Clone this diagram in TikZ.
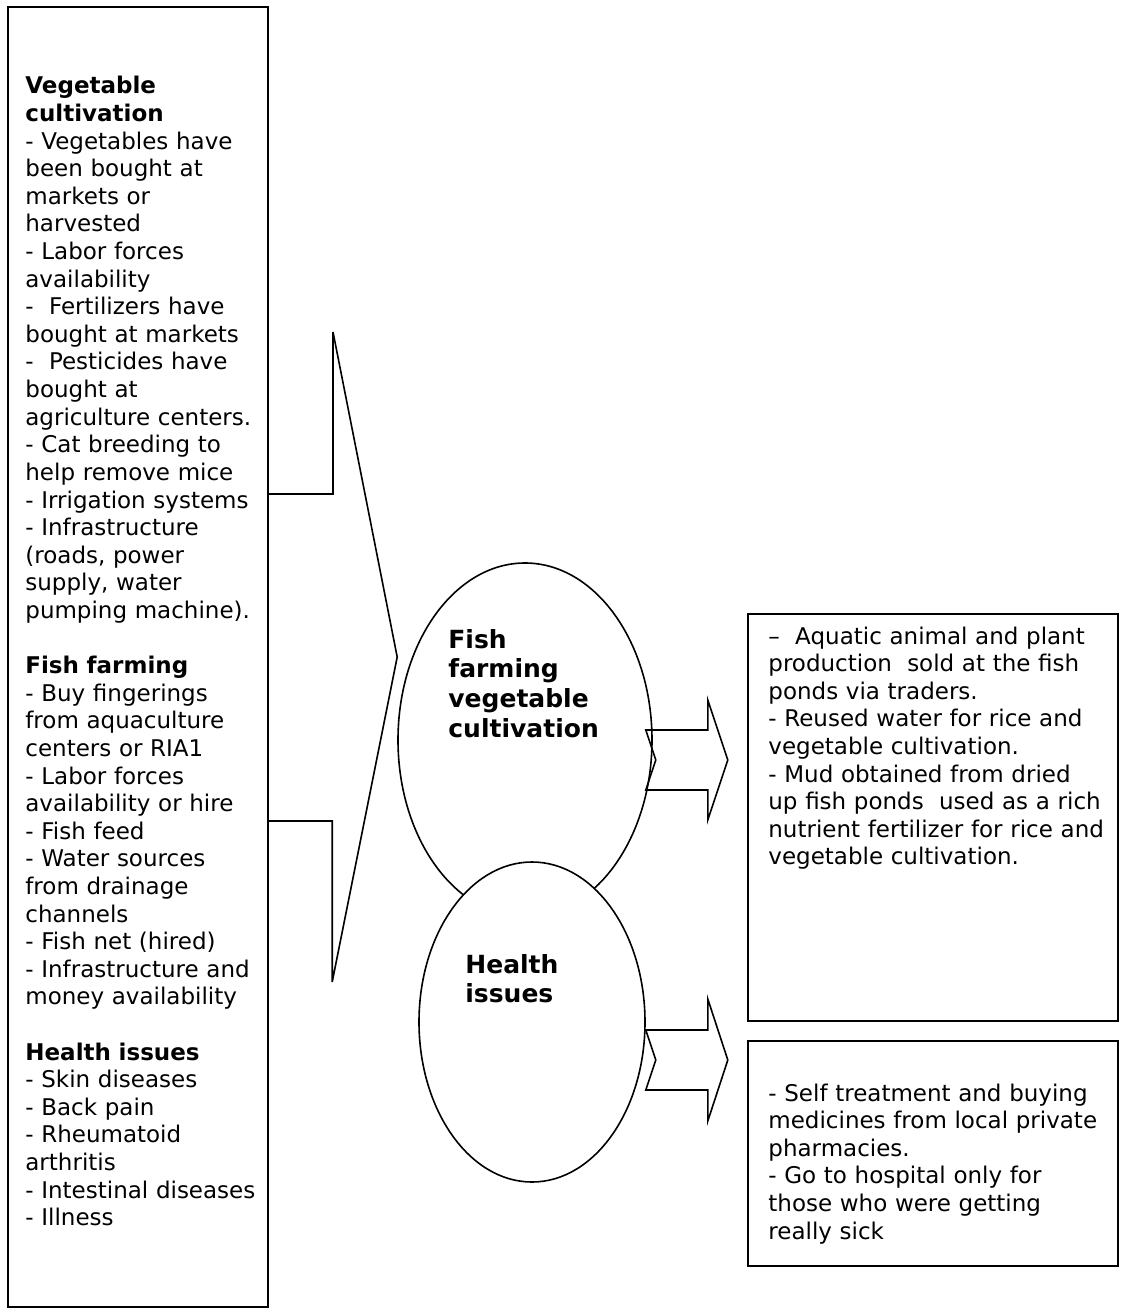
\documentclass[tikz,border=0pt]{standalone}
\usepackage{fontspec}
\setmainfont{DejaVu Sans}
\usetikzlibrary{positioning,calc,shapes.geometric}

\tikzset{
  box/.style={draw, line width=1pt, inner sep=0pt, outer sep=0pt},
  oval/.style={draw, ellipse, line width=0.8pt, inner sep=0pt, fill=white},
  conn/.style={draw, line width=0.8pt, line join=miter},
  bodytext/.style={anchor=base west, inner sep=0pt, align=left,
    font=\fontsize{11.5}{13.8}\selectfont},
  ovaltext/.style={anchor=base west, inner sep=0pt, align=left, text width=90pt,
    font=\fontsize{12.5}{14.9}\selectfont\bfseries}
}

\begin{document}
\begin{tikzpicture}[x=0.5pt, y=-0.5pt]
  \useasboundingbox (0,0) rectangle (1120,1311);

  % left box with the inputs
  \node[box, minimum width=130pt, minimum height=650pt] (veg) at (138,657) {};
  \node[bodytext, text width=150pt] (vegtxt) at (25,94) {%
    \textbf{Vegetable}\\
    \textbf{cultivation}\\
    - Vegetables have\\
    been bought at\\
    markets or\\
    harvested\\
    - Labor forces\\
    availability\\
    -\ \ Fertilizers have\\
    bought at markets\\
    -\ \ Pesticides have\\
    bought at\\
    agriculture centers.\\
    - Cat breeding to\\
    help remove mice\\
    - Irrigation systems\\
    - Infrastructure\\
    (roads, power\\
    supply, water\\
    pumping machine).\\[13.8pt]
    \textbf{Fish farming}\\
    - Buy fingerings\\
    from aquaculture\\
    centers or RIA1\\
    - Labor forces\\
    availability or hire\\
    - Fish feed\\
    - Water sources\\
    from drainage\\
    channels\\
    - Fish net (hired)\\
    - Infrastructure and\\
    money availability\\[13.8pt]
    \textbf{Health issues}\\
    - Skin diseases\\
    - Back pain\\
    - Rheumatoid\\
    arthritis\\
    - Intestinal diseases\\
    - Illness};

  % the two ovals
  \node[oval, minimum width=127pt, minimum height=177pt] (fish) at (525,740) {};
  \node[oval, minimum width=113pt, minimum height=160pt] (health) at (532,1022) {};
  \node[ovaltext] (fishtxt) at (448,648) {Fish\\farming\\vegetable\\cultivation};
  \node[ovaltext] (healthtxt) at (465,973) {Health\\issues};

  % big arrow from the left box to the first oval
  \coordinate (tip) at ($(fish.west)+(0,-83)$);
  \draw[conn] ($(veg.north east)+(0,487)$) -- ++(65,0) -- ++(0,-162) -- (tip)
    -- ++(-65,325) -- ++(0,-161) -- ($(veg.north east)+(0,814)$);

  % output boxes
  \node[box, minimum width=185pt, minimum height=203.5pt] (out1) at (933,817.5) {};
  \node[box, minimum width=185pt, minimum height=112.5pt] (out2) at (933,1153.5) {};
  \node[bodytext, text width=180pt] (out1txt) at (768,644) {%
    –\ \ Aquatic animal and plant\\
    production\ \ sold at the fish\\
    ponds via traders.\\
    - Reused water for rice and\\
    vegetable cultivation.\\
    - Mud obtained from dried\\
    up fish ponds\ \ used as a rich\\
    nutrient fertilizer for rice and\\
    vegetable cultivation.};
  \node[bodytext, text width=180pt] (out2txt) at (768,1101) {%
    - Self treatment and buying\\
    medicines from local private\\
    pharmacies.\\
    - Go to hospital only for\\
    those who were getting\\
    really sick};

  % notched arrows towards the output boxes
  \draw[conn] ($(fish.east)+(-7,-10)$) -- ++(62,0) -- ++(0,-30) -- ++(20,60)
    -- ++(-20,60) -- ++(0,-30) -- ++(-62,0) -- ++(10,-30) -- cycle;
  \draw[conn] ($(health.east)+(0,8)$) -- ++(62,0) -- ++(0,-31) -- ++(20,61)
    -- ++(-20,61) -- ++(0,-31) -- ++(-62,0) -- ++(10,-30) -- cycle;
\end{tikzpicture}
\end{document}
